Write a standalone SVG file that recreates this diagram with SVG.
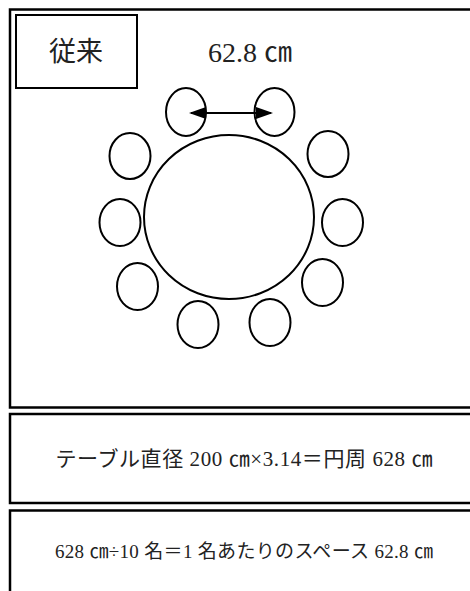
<svg xmlns="http://www.w3.org/2000/svg" width="470" height="591" viewBox="0 0 470 591">
  <style>
    .frame { fill: none; stroke: #000; stroke-width: 2.5; }
    .lbl { fill: #fff; stroke: #000; stroke-width: 2; }
    .seat { fill: none; stroke: #000; stroke-width: 2; }
    .tbl { fill: none; stroke: #000; stroke-width: 2; }
    .t { font-family: "Liberation Serif", "Noto Sans CJK JP", serif; fill: #222; }
    .arrow { stroke: #000; stroke-width: 2; fill: none; }
  </style>
  <defs>
    <marker id="ah" viewBox="0 0 17 12" refX="15" refY="6" markerWidth="17" markerHeight="12" markerUnits="userSpaceOnUse" orient="auto-start-reverse">
      <path d="M0,0 L17,6 L0,12 z" fill="#000"/>
    </marker>
  </defs>
  <rect width="470" height="591" fill="#fff"/>

  <g id="frame-main">
    <rect class="frame" x="10" y="9.5" width="480" height="398"/>
  </g>
  <g id="label-box">
    <rect class="lbl" x="16" y="15" width="121" height="73"/>
    <text class="t" x="76" y="61" font-size="27" text-anchor="middle" font-family="Noto Sans CJK JP, sans-serif">従来</text>
  </g>
  <g id="dimension-label">
    <text class="t" x="208" y="62" font-size="28">62.8 ㎝</text>
  </g>
  <g id="table">
    <ellipse class="tbl" cx="229" cy="217" rx="85" ry="82"/>
  </g>
  <g id="seats">
    <ellipse id="seat1" class="seat" cx="186" cy="112" rx="20" ry="24"/>
    <ellipse id="seat2" class="seat" cx="274.5" cy="112" rx="20" ry="24"/>
    <ellipse id="seat3" class="seat" cx="130" cy="156" rx="20.5" ry="23"/>
    <ellipse id="seat4" class="seat" cx="328" cy="154" rx="20.5" ry="23"/>
    <ellipse id="seat5" class="seat" cx="120" cy="222.5" rx="20.5" ry="23.5"/>
    <ellipse id="seat6" class="seat" cx="342.5" cy="222.5" rx="20.5" ry="23.5"/>
    <ellipse id="seat7" class="seat" cx="137.5" cy="286.5" rx="20.5" ry="23.5"/>
    <ellipse id="seat8" class="seat" cx="322.5" cy="282.5" rx="20.5" ry="23.5"/>
    <ellipse id="seat9" class="seat" cx="198" cy="324.5" rx="20.5" ry="23.5"/>
    <ellipse id="seat10" class="seat" cx="270" cy="322.5" rx="20.5" ry="23.5"/>
  </g>
  <g id="connectors">
    <line class="arrow" x1="191" y1="113" x2="271" y2="113" marker-start="url(#ah)" marker-end="url(#ah)"/>
  </g>

  <g id="formula-box">
    <rect class="frame" x="10" y="414" width="480" height="89"/>
    <text class="t" x="244" y="466" font-size="21" text-anchor="middle" textLength="377" lengthAdjust="spacing">テーブル直径 200 ㎝×3.14＝円周 628 ㎝</text>
  </g>
  <g id="division-box">
    <rect class="frame" x="10" y="510.5" width="480" height="120"/>
    <text class="t" x="244" y="558" font-size="19" text-anchor="middle" textLength="378" lengthAdjust="spacing">628 ㎝÷10 名＝1 名あたりのスペース 62.8 ㎝</text>
  </g>
</svg>
